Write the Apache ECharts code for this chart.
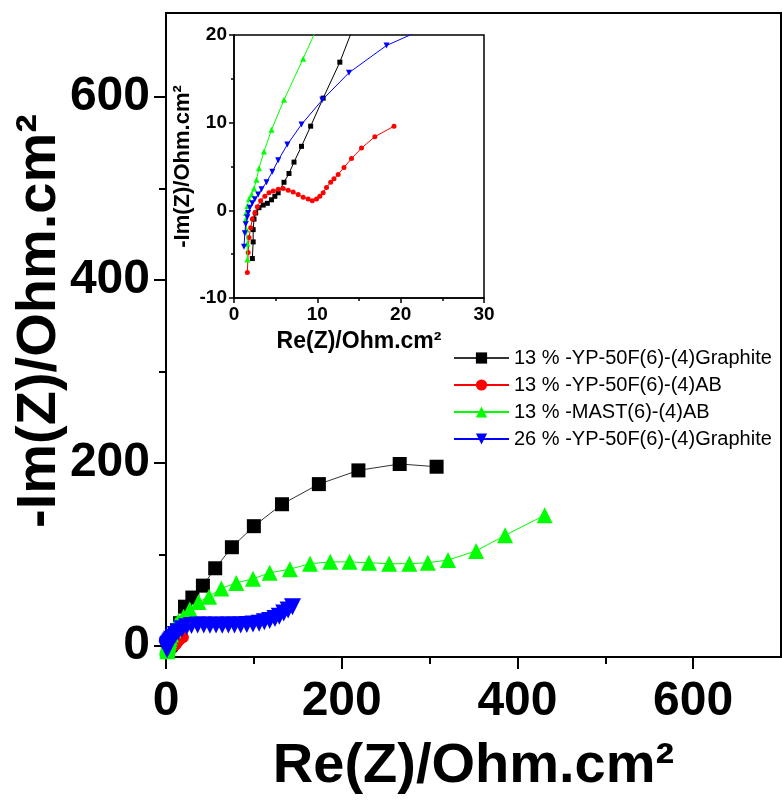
<!DOCTYPE html>
<html><head><meta charset="utf-8">
<script src="https://cdn.jsdelivr.net/npm/echarts@6/dist/echarts.min.js"></script>
<style>html,body{margin:0;padding:0;background:#fff}#c{width:782px;height:800px}</style>
</head><body><div id="c"></div>
<script>
const seriesNames = ['13 % -YP-50F(6)-(4)Graphite', '13 % -YP-50F(6)-(4)AB', '13 % -MAST(6)-(4)AB', '26 % -YP-50F(6)-(4)Graphite'];
const blackData = [[2.2,-5.5],[2.3,-3.6],[2.3,-2.2],[2.4,-1.0],[2.6,-0.3],[3.0,0.3],[3.5,0.6],[4.0,0.8],[4.5,1.2],[4.9,1.6],[5.3,2.0],[6.0,3.2],[6.6,4.2],[7.2,5.5],[8.1,7.3],[9.2,9.6],[10.7,12.8],[12.7,16.9],[16,25],[21.6,43],[30,53],[42,66],[56,85],[75,108],[100,131],[132,155],[174,177],[219,192],[266,199],[308,196]];
const redData = [[1.6,-7.1],[1.7,-4.8],[1.8,-3.1],[2.0,-2.0],[2.2,-1.0],[2.5,-0.3],[2.8,0.4],[3.2,1.1],[3.7,1.6],[4.2,2.0],[4.7,2.2],[5.3,2.4],[5.9,2.5],[6.5,2.3],[7.1,2.1],[7.7,1.8],[8.3,1.5],[8.9,1.3],[9.4,1.1],[9.9,1.3],[10.3,1.6],[10.7,2.0],[11.1,2.6],[11.6,3.2],[12.0,3.6],[12.5,4.1],[13.2,4.9],[14.1,5.9],[15.3,7.1],[16.9,8.4],[19.2,9.6]];
const greenData = [[1.6,-5.6],[1.6,-3.8],[1.5,-2.2],[1.44,-1.0],[1.44,-0.3],[1.6,0.5],[1.8,1.3],[2.1,1.8],[2.4,2.5],[2.7,3.5],[3.0,4.8],[3.6,6.7],[4.5,9.2],[6.0,12.6],[8.3,17.3],[11,23],[14,27],[20,32],[27,40],[37,48],[49,54],[63,63],[80,69],[99,73.5],[118,80],[141,84],[164,90],[187,92],[209,92],[231,91],[254,90],[277,90],[298,91],[321,94],[353,104],[386,121],[431,143]];
const blueData = [[1.2,-4.15],[1.3,-2.6],[1.4,-1.6],[1.6,-0.8],[1.7,-0.3],[1.9,0.3],[2.2,0.8],[2.5,1.26],[2.9,1.8],[3.3,2.4],[3.9,3.2],[4.6,4.4],[5.3,5.7],[6.4,7.5],[8.1,9.8],[10.6,12.6],[13.8,15.7],[18.3,18.8],[23.5,21],[29,22.5],[36,22.9],[43,23.1],[50,22.8],[57,23],[64,22.7],[71,22.9],[78,23],[85,23.1],[92,23.5],[99,24],[106,25],[112,26.5],[118,28],[124,30],[129,32.5],[134,36],[139,39.5],[144,43]];
const mainXMajor = [0,200,400,600];
const mainXMinor = [100,300,500];
const mainYMajor = [0,200,400,600];
const mainYMinor = [100,300,500];
const insetXMajor = [0,10,20,30];
const insetXMinor = [5,15,25];
const insetYMajor = [-10,0,10,20];
const insetYMinor = [-5,5,15];
const mainYTitle = '-Im(Z)/Ohm.cm²';
const mainXTitle = 'Re(Z)/Ohm.cm²';

const FONT = 'Liberation Sans, Arial, sans-serif';
const colors = ['#000000','#ff0000','#00ff00','#0000ff'];
const datas = [blackData, redData, greenData, blueData];
const symbols = ['rect','circle','triangle','triangle'];
const rotates = [0,0,0,180];
const mainSizes = [14,12,16,17];
const insetSizes = [5,5,6,6];

function valAxis(gridIndex, min, max, major, opts) {
  return Object.assign({
    type: 'value', gridIndex, min, max, splitLine: {show:false},
    axisLine: {show:true, onZero:false, lineStyle:{color:'#000', width:2}},
    axisTick: {show:true, inside:false, length:12, customValues: major, lineStyle:{color:'#000', width:2}},
    axisLabel: {customValues: major, color:'#000', fontFamily: FONT, fontWeight:'bold', fontSize:48, margin:16}
  }, opts || {});
}
function minorAxis(gridIndex, min, max, minor, len, w, position) {
  return {
    type:'value', gridIndex, min, max, position, splitLine:{show:false},
    axisLine:{show:false, onZero:false},
    axisLabel:{show:false},
    axisTick:{show:true, inside:false, length:len, customValues:minor, lineStyle:{color:'#000', width:w}}
  };
}

const xAxis = [
  valAxis(0, 0, 700, mainXMajor, {
    axisLabel: {customValues: mainXMajor, color:'#000', fontFamily: FONT, fontWeight:'bold', fontSize:48, margin:21},
    name: mainXTitle, nameLocation:'middle', nameGap:82,
    nameTextStyle:{fontFamily:FONT, fontWeight:'bold', fontSize:56, color:'#000'}}),
  minorAxis(0, 0, 700, mainXMinor, 7, 2, 'bottom'),
  valAxis(1, 0, 30, insetXMajor, {
    axisLine:{show:true, onZero:false, lineStyle:{color:'#000', width:1.5}},
    axisTick:{show:true, length:5, customValues: insetXMajor, lineStyle:{color:'#000', width:1.5}},
    axisLabel:{customValues: insetXMajor, color:'#000', fontFamily:FONT, fontWeight:'bold', fontSize:19, margin:7},
    name:'Re(Z)/Ohm.cm²', nameLocation:'middle', nameGap:32,
    nameTextStyle:{fontFamily:FONT, fontWeight:'bold', fontSize:23, color:'#000'}}),
  minorAxis(1, 0, 30, insetXMinor, 3, 1.5, 'bottom')
];
const yAxis = [
  valAxis(0, -12, 692, mainYMajor, {}),
  minorAxis(0, -12, 692, mainYMinor, 7, 2, 'left'),
  valAxis(1, -10, 20, insetYMajor, {
    axisLine:{show:true, onZero:false, lineStyle:{color:'#000', width:1.5}},
    axisTick:{show:true, length:5, customValues: insetYMajor, lineStyle:{color:'#000', width:1.5}},
    axisLabel:{customValues: insetYMajor, color:'#000', fontFamily:FONT, fontWeight:'bold', fontSize:19, margin:7},
    name:'-Im(Z)/Ohm.cm²', nameLocation:'middle', nameGap:40, nameRotate:90,
    nameTextStyle:{fontFamily:FONT, fontWeight:'bold', fontSize:22, color:'#000'}}),
  minorAxis(1, -10, 20, insetYMinor, 3, 1.5, 'left')
];

const series = [];
for (let i = 0; i < 4; i++) {
  series.push({
    name: seriesNames[i], type:'line', xAxisIndex:0, yAxisIndex:0, data: datas[i],
    symbol: symbols[i], symbolRotate: rotates[i], symbolSize: mainSizes[i], showAllSymbol:true,
    itemStyle:{color:colors[i]}, lineStyle:{color: i===0 ? '#333' : colors[i], width:1}, z: 2+i, animation:false
  });
}
for (let i = 0; i < 4; i++) {
  series.push({
    name: seriesNames[i], type:'line', xAxisIndex:2, yAxisIndex:2, data: datas[i], clip:true,
    symbol: symbols[i], symbolRotate: rotates[i], symbolSize: insetSizes[i], showAllSymbol:true,
    itemStyle:{color:colors[i]}, lineStyle:{color:colors[i], width:1}, z: 2+i, animation:false
  });
}

const chart = echarts.init(document.getElementById('c'), null, {renderer:'canvas'});
chart.setOption({
  backgroundColor:'#fff',
  animation:false,
  grid:[
    {left:166, top:13, width:615, height:651, show:true, borderColor:'#000', borderWidth:2, backgroundColor:'transparent'},
    {left:234, top:35, width:250, height:263, show:true, borderColor:'#000', borderWidth:1.5, backgroundColor:'#fff'}
  ],
  xAxis, yAxis, series,
  graphic: [{
    type:'text', x:40, y:321, rotation: Math.PI/2, z:10,
    style:{text: mainYTitle, fill:'#000', font:'bold 56px ' + FONT, textAlign:'center', textVerticalAlign:'middle'}
  }],
  legend:{
    data: seriesNames, orient:'vertical', left:448, top:343, itemGap:7,
    itemWidth:55, itemHeight:14, textStyle:{fontFamily:FONT, fontSize:20, color:'#000'}
  }
});
</script></body></html>
